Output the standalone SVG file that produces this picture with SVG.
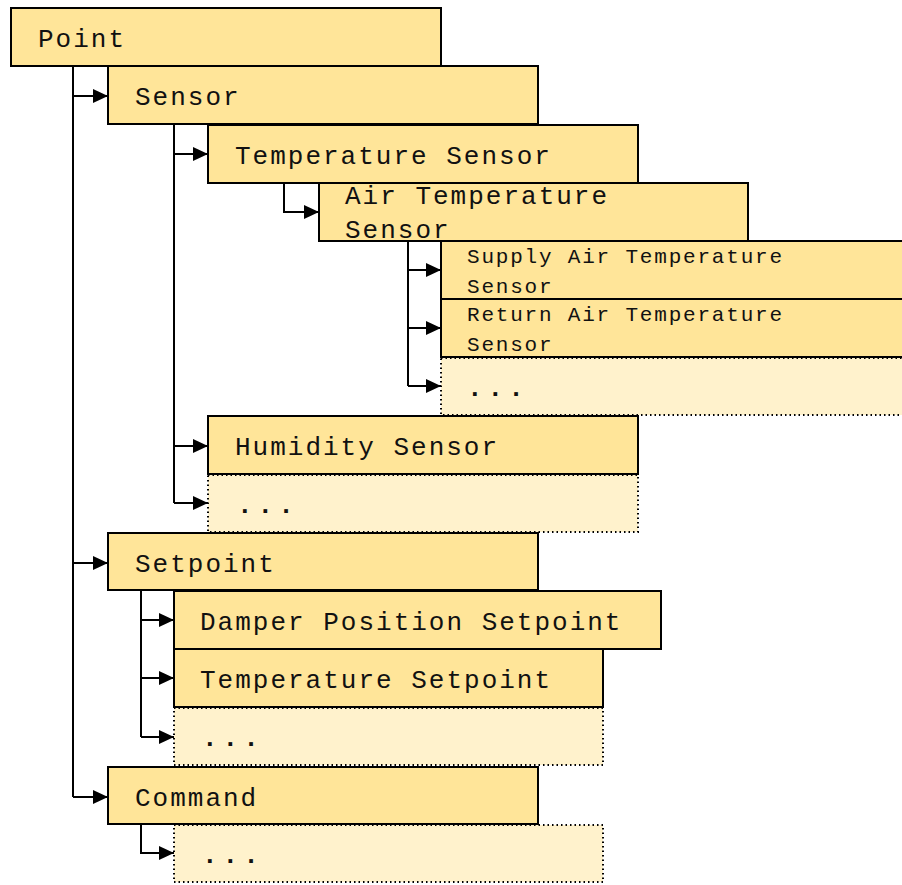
<svg xmlns="http://www.w3.org/2000/svg" width="902" height="885" viewBox="0 0 902 885">
<style>
.n{fill:#FFE599;stroke:#000;stroke-width:2}
.d{fill:#FFF2CC;stroke:#000;stroke-width:2;stroke-dasharray:1.5 3}
.t{font-family:"Liberation Mono","Courier New",monospace;font-size:26px;letter-spacing:2px;fill:#111}
.s{font-family:"Liberation Mono","Courier New",monospace;font-size:21px;letter-spacing:1.8px;fill:#111}
.e{font-family:"Liberation Mono","Courier New",monospace;font-size:26px;letter-spacing:5px;font-weight:bold;fill:#111}
.c{fill:none;stroke:#000;stroke-width:2}
</style>
<defs>
<marker id="a" viewBox="0 0 15 14" refX="15" refY="7" markerWidth="15" markerHeight="14" markerUnits="userSpaceOnUse" orient="auto">
<path d="M0,0 L15,7 L0,14 Z" fill="#000"/>
</marker>
</defs>
<rect width="902" height="885" fill="#fff"/>
<g id="point"><rect class="n" x="11" y="8" width="430" height="58"/><text class="t" x="38" y="47">Point</text></g>
<g id="sensor"><rect class="n" x="108" y="66" width="430" height="58"/><text class="t" x="135" y="105">Sensor</text></g>
<g id="temperature-sensor"><rect class="n" x="208" y="125" width="430" height="58"/><text class="t" x="235" y="164">Temperature Sensor</text></g>
<g id="air-temperature-sensor"><rect class="n" x="319" y="183" width="429" height="58"/><text class="t" x="345" y="204">Air Temperature</text><text class="t" x="345" y="238">Sensor</text></g>
<g id="supply-air-temperature-sensor"><rect class="n" x="441" y="241" width="466" height="58"/><text class="s" x="467" y="263">Supply Air Temperature</text><text class="s" x="467" y="293">Sensor</text></g>
<g id="return-air-temperature-sensor"><rect class="n" x="441" y="299" width="466" height="58"/><text class="s" x="467" y="321">Return Air Temperature</text><text class="s" x="467" y="351">Sensor</text></g>
<g id="air-temp-more"><rect class="d" x="441" y="358" width="466" height="57"/><text class="e" x="467" y="396">...</text></g>
<g id="humidity-sensor"><rect class="n" x="208" y="416" width="430" height="58"/><text class="t" x="235" y="455">Humidity Sensor</text></g>
<g id="sensor-more"><rect class="d" x="208" y="475" width="430" height="57"/><text class="e" x="237" y="513">...</text></g>
<g id="setpoint"><rect class="n" x="108" y="533" width="430" height="57"/><text class="t" x="135" y="572">Setpoint</text></g>
<g id="damper-position-setpoint"><rect class="n" x="174" y="591" width="487" height="58"/><text class="t" x="200" y="630">Damper Position Setpoint</text></g>
<g id="temperature-setpoint"><rect class="n" x="174" y="649" width="429" height="58"/><text class="t" x="200" y="688">Temperature Setpoint</text></g>
<g id="setpoint-more"><rect class="d" x="174" y="708" width="429" height="57"/><text class="e" x="202" y="746">...</text></g>
<g id="command"><rect class="n" x="108" y="767" width="430" height="57"/><text class="t" x="135" y="806">Command</text></g>
<g id="command-more"><rect class="d" x="174" y="825" width="429" height="57"/><text class="e" x="202" y="863">...</text></g>
<g id="connectors">
<path class="c" d="M73,66 V797"/>
<path class="c" d="M73,96 H108" marker-end="url(#a)"/>
<path class="c" d="M73,563 H108" marker-end="url(#a)"/>
<path class="c" d="M73,797 H108" marker-end="url(#a)"/>
<path class="c" d="M174,124 V503"/>
<path class="c" d="M174,154 H208" marker-end="url(#a)"/>
<path class="c" d="M174,446 H208" marker-end="url(#a)"/>
<path class="c" d="M174,503 H208" marker-end="url(#a)"/>
<path class="c" d="M284,183 V212 H319" marker-end="url(#a)"/>
<path class="c" d="M408,241 V386"/>
<path class="c" d="M408,270 H441" marker-end="url(#a)"/>
<path class="c" d="M408,328 H441" marker-end="url(#a)"/>
<path class="c" d="M408,386 H441" marker-end="url(#a)"/>
<path class="c" d="M141,590 V737"/>
<path class="c" d="M141,620 H174" marker-end="url(#a)"/>
<path class="c" d="M141,678 H174" marker-end="url(#a)"/>
<path class="c" d="M141,737 H174" marker-end="url(#a)"/>
<path class="c" d="M141,824 V853 H174" marker-end="url(#a)"/>
</g>
</svg>
